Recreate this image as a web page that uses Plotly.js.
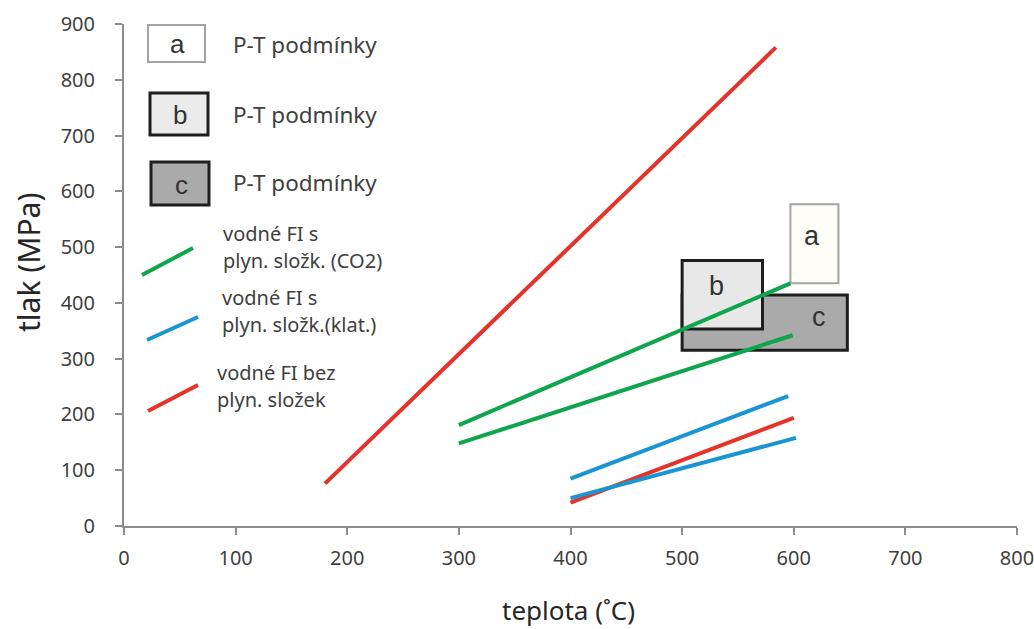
<!DOCTYPE html>
<html>
<head>
<meta charset="utf-8">
<script src="https://cdn.plot.ly/plotly-3.0.1.min.js"></script>
<style>
  html, body { margin: 0; padding: 0; background: #ffffff; }
  #chart { width: 1034px; height: 629px; }
</style>
</head>
<body>
<div id="chart"></div>
<script>
// Axis ticks
const xTickVals = [0, 100, 200, 300, 400, 500, 600, 700, 800];
const yTickVals = [0, 100, 200, 300, 400, 500, 600, 700, 800, 900];

// Axis titles
const xTitle = 'teplota (˚C)';
const yTitle = 'tlak (MPa)';

// Temperature (°C) / pressure (MPa) trends of the fluid inclusions
const co2UpperT = [300, 597];
const co2UpperP = [181, 435];
const co2LowerT = [300, 599];
const co2LowerP = [148, 342];
const klatUpperT = [400, 595];
const klatUpperP = [85, 233];
const klatLowerT = [400, 602];
const klatLowerP = [50, 158];
const bezHighT = [180, 584];
const bezHighP = [76, 858];
const bezLowT = [400, 600];
const bezLowP = [42, 194];

// P-T fields a, b, c
const fieldLabels = ['a', 'b', 'c'];
const fieldTmin = [597, 500, 500];
const fieldTmax = [640, 572, 648];
const fieldPmin = [435, 353, 315];
const fieldPmax = [577, 476, 414];

// Legend texts
const fieldLegendText = ['P-T podmínky', 'P-T podmínky', 'P-T podmínky'];
const lineLegendText = [
  ['vodné FI s', 'plyn. složk. (CO2)'],
  ['vodné FI s', 'plyn. složk.(klat.)'],
  ['vodné FI bez', 'plyn. složek']
];

// Styles
const RED = '#e4332a';
const GREEN = '#0ea54d';
const BLUE = '#1a95d3';
const TEXT = '#404040';
const fieldStyle = [
  { fill: '#fffdf8', line: '#a3a3a3', width: 2, legendFill: '#ffffff' },
  { fill: '#e8e8e8', line: '#1e1e1e', width: 3, legendFill: '#ebebeb' },
  { fill: '#aaaaaa', line: '#1e1e1e', width: 3, legendFill: '#aaaaaa' }
];
// where each field's letter sits inside it (fraction of width / height)
const letterPos = [[0.44, 0.60], [0.43, 0.63], [0.83, 0.60]];

const M = { l: 124, r: 17, t: 24, b: 103 };
const W = 1034, H = 629;
const PW = W - M.l - M.r, PH = H - M.t - M.b;
const px = x => (x - M.l) / PW;          // pixel -> paper x
const py = y => (H - M.b - y) / PH;      // pixel -> paper y

function lineTrace(t, p, color) {
  return { x: t, y: p, type: 'scatter', mode: 'lines',
           line: { color: color, width: 4 }, hoverinfo: 'skip', showlegend: false };
}

const traces = [
  lineTrace(bezHighT, bezHighP, RED),
  lineTrace(co2UpperT, co2UpperP, GREEN),
  lineTrace(co2LowerT, co2LowerP, GREEN),
  lineTrace(bezLowT, bezLowP, RED),
  lineTrace(klatUpperT, klatUpperP, BLUE),
  lineTrace(klatLowerT, klatLowerP, BLUE)
];

const shapes = [];
const annotations = [];

// P-T fields in data space; c first so b sits on top of it
[2, 1, 0].forEach(i => {
  const s = fieldStyle[i];
  shapes.push({ type: 'rect', xref: 'x', yref: 'y', layer: 'below',
    x0: fieldTmin[i], x1: fieldTmax[i], y0: fieldPmin[i], y1: fieldPmax[i],
    fillcolor: s.fill, line: { color: s.line, width: s.width } });
  annotations.push({ xref: 'x', yref: 'y', showarrow: false,
    x: fieldTmin[i] + letterPos[i][0] * (fieldTmax[i] - fieldTmin[i]),
    y: fieldPmin[i] + letterPos[i][1] * (fieldPmax[i] - fieldPmin[i]),
    text: fieldLabels[i], xanchor: 'center', yanchor: 'middle',
    font: { family: 'Liberation Sans, Arial, sans-serif', size: 27, color: '#333333' } });
});

// Legend: field swatches
const swatchBoxes = [[148, 205, 25, 62], [150, 208, 93, 135], [151, 209, 162, 205]];
const swatchTextY = [45, 115, 182];
swatchBoxes.forEach((b, i) => {
  const s = fieldStyle[i];
  shapes.push({ type: 'rect', xref: 'paper', yref: 'paper',
    x0: px(b[0]), x1: px(b[1]), y0: py(b[3]), y1: py(b[2]),
    fillcolor: s.legendFill, line: { color: s.line, width: s.width } });
  annotations.push({ xref: 'paper', yref: 'paper', showarrow: false,
    x: px((b[0] + b[1]) / 2 + 1), y: py((b[2] + b[3]) / 2 + 1),
    xanchor: 'center', yanchor: 'middle', text: fieldLabels[i],
    font: { family: 'Liberation Sans, Arial, sans-serif', size: 26, color: '#333333' } });
  annotations.push({ xref: 'paper', yref: 'paper', showarrow: false,
    x: px(231), y: py(swatchTextY[i]), xanchor: 'left', yanchor: 'middle',
    text: fieldLegendText[i],
    font: { family: 'Noto Sans, sans-serif', size: 22.5, color: TEXT } });
});

// Legend: line samples
const sampleSegs = [[142, 275, 193, 248], [147, 340, 198, 317], [148, 411, 198, 385]];
const sampleColors = [GREEN, BLUE, RED];
const sampleTextX = [221, 220, 215];
const sampleTextY = [[234, 260], [297, 324], [372, 399]];
sampleSegs.forEach((s, i) => {
  shapes.push({ type: 'line', xref: 'paper', yref: 'paper',
    x0: px(s[0]), y0: py(s[1]), x1: px(s[2]), y1: py(s[3]),
    line: { color: sampleColors[i], width: 4 } });
  lineLegendText[i].forEach((t, j) => {
    annotations.push({ xref: 'paper', yref: 'paper', showarrow: false,
      x: px(sampleTextX[i]), y: py(sampleTextY[i][j]), xanchor: 'left', yanchor: 'middle',
      text: t, font: { family: 'Noto Sans, sans-serif', size: 20, color: TEXT } });
  });
});

// Axis titles, placed freely so they can sit close to the page edge
annotations.push({ xref: 'paper', yref: 'paper', showarrow: false,
  x: px(568), y: py(610), xanchor: 'center', yanchor: 'middle',
  text: xTitle, font: { family: 'Noto Sans, sans-serif', size: 26, color: '#262626' } });
annotations.push({ xref: 'paper', yref: 'paper', showarrow: false,
  x: px(28), y: py(263), xanchor: 'center', yanchor: 'middle', textangle: -90,
  text: yTitle, font: { family: 'Noto Sans, sans-serif', size: 30, color: '#262626' } });

const axisCommon = {
  showgrid: false, zeroline: false, showline: true,
  linecolor: '#8c8c8c', linewidth: 2,
  ticks: 'outside', ticklen: 7, tickwidth: 2, tickcolor: '#8c8c8c',
  tickfont: { family: 'Noto Sans, sans-serif', size: 20, color: TEXT },
  ticklabeloverflow: 'allow',
  fixedrange: true
};

const layout = {
  width: W, height: H,
  margin: M,
  paper_bgcolor: '#ffffff', plot_bgcolor: '#ffffff',
  showlegend: false,
  xaxis: Object.assign({}, axisCommon, {
    range: [0, 800], tickmode: 'array', tickvals: xTickVals,
    ticktext: xTickVals.map(String), ticklabelstandoff: 6
  }),
  yaxis: Object.assign({}, axisCommon, {
    range: [0, 900], tickmode: 'array', tickvals: yTickVals,
    ticktext: yTickVals.map(String), ticklabelstandoff: 16
  }),
  shapes: shapes,
  annotations: annotations
};

Plotly.newPlot('chart', traces, layout, { staticPlot: true, displayModeBar: false });
</script>
</body>
</html>
